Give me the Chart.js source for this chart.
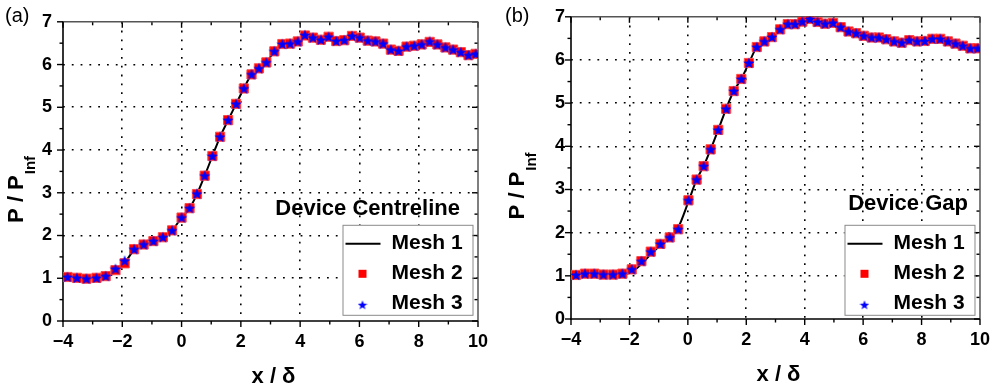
<!DOCTYPE html>
<html>
<head>
<meta charset="utf-8">
<script src="https://cdn.jsdelivr.net/npm/chart.js@4.4.1/dist/chart.umd.min.js"></script>
<style>
  html, body { margin: 0; padding: 0; background: #fff; }
  #wrap { position: relative; width: 1000px; height: 388px; }
  .panel { position: absolute; top: 0; width: 500px; height: 388px; }
</style>
</head>
<body>
<div id="wrap">
  <div class="panel" style="left:0"><canvas id="chartA"></canvas></div>
  <div class="panel" style="left:500px"><canvas id="chartB"></canvas></div>
</div>
<script>
// (a) Device Centreline
const xA = [-3.85, -3.53, -3.21, -2.87, -2.56, -2.23, -1.92, -1.60, -1.28, -0.95, -0.63, -0.32,
  0.00, 0.27, 0.52, 0.78, 1.04, 1.30, 1.57, 1.84, 2.10, 2.36, 2.61, 2.86,
  3.13, 3.40, 3.66, 3.92, 4.16, 4.43, 4.70, 4.96, 5.22, 5.49,
  5.75, 6.01, 6.28, 6.54, 6.80, 7.06, 7.32, 7.59, 7.85, 8.10,
  8.37, 8.63, 8.90, 9.16, 9.42, 9.68, 9.92];
const mesh1A = [1.03, 1.01, 0.99, 1.00, 1.02, 1.14, 1.36, 1.66, 1.79, 1.87, 1.96, 2.12,
  2.42, 2.64, 2.97, 3.40, 3.86, 4.31, 4.70, 5.08, 5.44, 5.77, 5.91, 6.05,
  6.31, 6.48, 6.49, 6.54, 6.68, 6.63, 6.58, 6.65, 6.55, 6.57,
  6.67, 6.63, 6.56, 6.54, 6.49, 6.35, 6.32, 6.42, 6.44, 6.47,
  6.53, 6.47, 6.40, 6.35, 6.29, 6.22, 6.25];
const mesh2A = [1.03, 1.01, 0.99, 1.01, 1.05, 1.19, 1.35, 1.68, 1.79, 1.87, 1.96, 2.12,
  2.42, 2.64, 2.97, 3.40, 3.86, 4.31, 4.70, 5.08, 5.44, 5.77, 5.91, 6.05,
  6.31, 6.48, 6.49, 6.54, 6.68, 6.63, 6.58, 6.65, 6.55, 6.57,
  6.67, 6.63, 6.56, 6.54, 6.49, 6.35, 6.32, 6.42, 6.44, 6.47,
  6.53, 6.47, 6.40, 6.35, 6.29, 6.22, 6.25];
const mesh3A = [1.03, 1.01, 0.99, 1.01, 1.05, 1.22, 1.41, 1.68, 1.79, 1.87, 1.96, 2.12,
  2.42, 2.64, 2.98, 3.40, 3.86, 4.31, 4.70, 5.08, 5.44, 5.77, 5.91, 6.05,
  6.31, 6.48, 6.49, 6.54, 6.69, 6.63, 6.58, 6.65, 6.55, 6.57,
  6.67, 6.63, 6.56, 6.54, 6.49, 6.35, 6.32, 6.42, 6.44, 6.47,
  6.54, 6.47, 6.40, 6.35, 6.29, 6.22, 6.25];

// (b) Device Gap
const xB = [-3.83, -3.52, -3.20, -2.89, -2.56, -2.24, -1.92, -1.59, -1.27, -0.94, -0.62, -0.33,
  0.02, 0.30, 0.54, 0.78, 1.04, 1.31, 1.57, 1.83, 2.09, 2.36, 2.62, 2.88,
  3.16, 3.42, 3.67, 3.92, 4.18, 4.44, 4.70, 4.97, 5.23, 5.50,
  5.76, 6.02, 6.29, 6.54, 6.79, 7.06, 7.32, 7.58, 7.85, 8.11,
  8.37, 8.64, 8.90, 9.16, 9.41, 9.67, 9.92];
const mesh1B = [1.02, 1.05, 1.05, 1.03, 1.03, 1.03, 1.09, 1.27, 1.50, 1.71, 1.88, 2.12,
  2.72, 3.23, 3.54, 3.93, 4.38, 4.87, 5.28, 5.56, 5.93, 6.30, 6.43, 6.53,
  6.71, 6.83, 6.83, 6.89, 6.95, 6.88, 6.84, 6.86, 6.76, 6.66,
  6.62, 6.56, 6.52, 6.52, 6.48, 6.43, 6.40, 6.46, 6.43, 6.44,
  6.49, 6.49, 6.43, 6.38, 6.33, 6.27, 6.27];
const mesh2B = [1.02, 1.05, 1.05, 1.03, 1.03, 1.05, 1.15, 1.34, 1.56, 1.74, 1.89, 2.08,
  2.75, 3.23, 3.54, 3.93, 4.38, 4.87, 5.28, 5.56, 5.93, 6.30, 6.43, 6.53,
  6.71, 6.83, 6.83, 6.89, 6.95, 6.88, 6.84, 6.86, 6.76, 6.66,
  6.62, 6.56, 6.52, 6.52, 6.48, 6.43, 6.40, 6.46, 6.43, 6.44,
  6.49, 6.49, 6.43, 6.38, 6.33, 6.27, 6.27];
const mesh3B = [1.02, 1.05, 1.05, 1.03, 1.03, 1.05, 1.15, 1.34, 1.56, 1.74, 1.89, 2.08,
  2.75, 3.23, 3.54, 3.93, 4.38, 4.87, 5.28, 5.56, 5.93, 6.30, 6.43, 6.53,
  6.71, 6.83, 6.83, 6.89, 6.95, 6.88, 6.84, 6.86, 6.76, 6.66,
  6.62, 6.56, 6.52, 6.52, 6.48, 6.43, 6.40, 6.46, 6.43, 6.44,
  6.49, 6.49, 6.43, 6.38, 6.33, 6.27, 6.27];

const seriesNames = ["Mesh 1", "Mesh 2", "Mesh 3"];
const xRange = [-4, 10];
const yRange = [0, 7];

const FONT = "'Liberation Sans', Arial, sans-serif";
Chart.defaults.font.family = FONT;
Chart.defaults.color = "#000";

function makeStar(size, color) {
  const c = document.createElement("canvas");
  c.width = size; c.height = size;
  const g = c.getContext("2d");
  const cx = size / 2, cy = size / 2 + 0.5, ro = size / 2, ri = ro * 0.42;
  g.beginPath();
  for (let i = 0; i < 10; i++) {
    const r = i % 2 ? ri : ro;
    const a = -Math.PI / 2 + i * Math.PI / 5;
    g.lineTo(cx + r * Math.cos(a), cy + r * Math.sin(a));
  }
  g.closePath();
  g.fillStyle = color;
  g.fill();
  return c;
}
const starBig = makeStar(12, "#0000ff");
const starSmall = makeStar(10, "#0000ff");

function seg(ctx, x1, y1, x2, y2) {
  ctx.beginPath(); ctx.moveTo(x1, y1); ctx.lineTo(x2, y2); ctx.stroke();
}

// box + inward/outward ticks
const framePlugin = {
  id: "frame",
  beforeDatasetsDraw(chart) {
    const { ctx, chartArea: a, scales: { x, y } } = chart;
    ctx.save();
    ctx.strokeStyle = "#000";
    ctx.lineWidth = 1.4;
    for (let v = x.min; v <= x.max + 1e-9; v += 1) {
      const p = x.getPixelForValue(v);
      const L = Math.round(v - x.min) % 2 === 0 ? 6 : 3.5;
      seg(ctx, p, a.bottom, p, a.bottom + L);
      seg(ctx, p, a.top, p, a.top + L);
    }
    for (let v = y.min; v <= y.max + 1e-9; v += 0.5) {
      const p = y.getPixelForValue(v);
      const L = Math.abs(v - Math.round(v)) < 1e-6 ? 6 : 3.5;
      seg(ctx, a.left - L, p, a.left, p);
      seg(ctx, a.right - L, p, a.right, p);
    }
    ctx.strokeStyle = "#555";
    ctx.lineWidth = 1.5;
    seg(ctx, a.left, a.top, a.right, a.top);
    seg(ctx, a.right, a.top, a.right, a.bottom);
    ctx.strokeStyle = "#000";
    ctx.lineWidth = 1.6;
    seg(ctx, a.left, a.top, a.left, a.bottom + 0.8);
    seg(ctx, a.left - 0.8, a.bottom, a.right, a.bottom);
    ctx.restore();
  }
};

// panel label, axis titles, note and legend box
const decorPlugin = {
  id: "decor",
  afterDraw(chart, args, o) {
    const { ctx, chartArea: a } = chart;
    ctx.save();
    ctx.fillStyle = "#000";

    ctx.font = "20px " + FONT;
    ctx.textAlign = "left";
    ctx.textBaseline = "middle";
    ctx.fillText(o.panel, 5, 16);

    // y title, rotated
    ctx.save();
    const mainF = "bold 22px " + FONT, subF = "bold 15px " + FONT;
    ctx.font = mainF;
    const w1 = ctx.measureText("P / P").width;
    ctx.font = subF;
    const w2 = ctx.measureText("Inf").width + 1;
    ctx.translate(0, (a.top + a.bottom) / 2 + 18);
    ctx.rotate(-Math.PI / 2);
    ctx.textBaseline = "alphabetic";
    ctx.textAlign = "left";
    ctx.font = mainF;
    ctx.fillText("P / P", -(w1 + w2) / 2, o.yTitleBase);
    ctx.font = subF;
    ctx.fillText("Inf", -(w1 + w2) / 2 + w1 + 1, o.yTitleBase + 12);
    ctx.restore();

    // x title
    ctx.font = "bold 22px " + FONT;
    ctx.textAlign = "center";
    ctx.textBaseline = "alphabetic";
    ctx.fillText("x / \u03b4", (a.left + a.right) / 2 + 3, a.bottom + 62);

    // note above legend
    ctx.font = "bold 22px " + FONT;
    ctx.textAlign = "right";
    ctx.textBaseline = "middle";
    ctx.fillText(o.note, a.right - o.noteRight, a.top + 187);

    // legend box
    const bw = 130, bh = 90;
    const bx = a.right - 5.5 - bw, by = a.top + o.legTop;
    ctx.fillStyle = "#fff";
    ctx.fillRect(bx, by, bw, bh);
    ctx.strokeStyle = "#8a8a8a";
    ctx.lineWidth = 1;
    ctx.strokeRect(bx + 0.5, by + 0.5, bw, bh);
    const rows = [17, 47, 77];
    const sx = bx + 20;
    ctx.strokeStyle = "#000";
    ctx.lineWidth = 2;
    seg(ctx, bx + 3, by + rows[0] + 2, bx + 38, by + rows[0] + 2);
    ctx.fillStyle = "#ff0000";
    ctx.fillRect(sx - 4, by + rows[1] + 2 - 4, 8, 8);
    ctx.drawImage(starSmall, sx - 5, by + rows[2] + 3 - 5);
    ctx.fillStyle = "#000";
    ctx.font = "bold 21px " + FONT;
    ctx.textAlign = "left";
    ctx.textBaseline = "middle";
    seriesNames.forEach((n, i) => ctx.fillText(n, bx + 49, by + rows[i] + 1));
    ctx.restore();
  }
};

function tickLabel(v) {
  return v < 0 ? "\u2212" + Math.abs(v) : String(v);
}

function makeChart(id, xs, m1, m2, m3, cfg) {
  const pts = arr => xs.map((v, i) => ({ x: v, y: arr[i] }));
  const edgeColor = (ctx, lo, hi) => {
    const v = ctx.tick ? ctx.tick.value : null;
    return (v === lo || v === hi) ? "rgba(0,0,0,0)" : "#000";
  };
  return new Chart(document.getElementById(id), {
    type: "scatter",
    data: {
      datasets: [
        {
          label: seriesNames[0], data: pts(m1), showLine: true,
          borderColor: "#000", borderWidth: 2, pointRadius: 0,
          cubicInterpolationMode: "monotone", order: 3
        },
        {
          label: seriesNames[1], data: pts(m2), showLine: false,
          pointStyle: "rect", pointRadius: 6.5,
          backgroundColor: "#ff0000", borderColor: "#ff4a4a", borderWidth: 1, order: 2
        },
        {
          label: seriesNames[2], data: pts(m3), showLine: false,
          pointStyle: starBig, pointRadius: 5, order: 1
        }
      ]
    },
    options: {
      responsive: true,
      maintainAspectRatio: false,
      animation: false,
      layout: { padding: { top: cfg.top, right: cfg.right, left: 0, bottom: 0 } },
      scales: {
        x: {
          type: "linear", min: xRange[0], max: xRange[1],
          ticks: {
            stepSize: 2, padding: 10, maxRotation: 0, autoSkip: false,
            font: { size: 18, weight: "bold" }, callback: tickLabel
          },
          grid: { drawTicks: false, lineWidth: 1.6, color: c => edgeColor(c, xRange[0], xRange[1]) },
          border: { display: false, dash: [1.8, 7] },
          afterFit: s => { s.height = cfg.bottom; }
        },
        y: {
          type: "linear", min: yRange[0], max: yRange[1],
          ticks: {
            stepSize: 1, padding: cfg.yPad,
            font: { size: 18, weight: "bold" }
          },
          grid: { drawTicks: false, lineWidth: 1.6, color: c => edgeColor(c, yRange[0], yRange[1]) },
          border: { display: false, dash: [1.8, 7] },
          afterFit: s => { s.width = cfg.left; }
        }
      },
      plugins: {
        legend: { display: false },
        tooltip: { enabled: false },
        decor: cfg.decor
      }
    },
    plugins: [framePlugin, decorPlugin]
  });
}

makeChart("chartA", xA, mesh1A, mesh2A, mesh3A, {
  top: 15, right: 22, bottom: 67, left: 63, yPad: 11,
  decor: { panel: "(a)", note: "Device Centreline", noteRight: 18, legTop: 203, yTitleBase: 23 }
});
makeChart("chartB", xB, mesh1B, mesh2B, mesh3B, {
  top: 14, right: 14, bottom: 69, left: 71, yPad: 6,
  decor: { panel: "(b)", note: "Device Gap", noteRight: 12, legTop: 208, yTitleBase: 24 }
});
</script>
</body>
</html>
